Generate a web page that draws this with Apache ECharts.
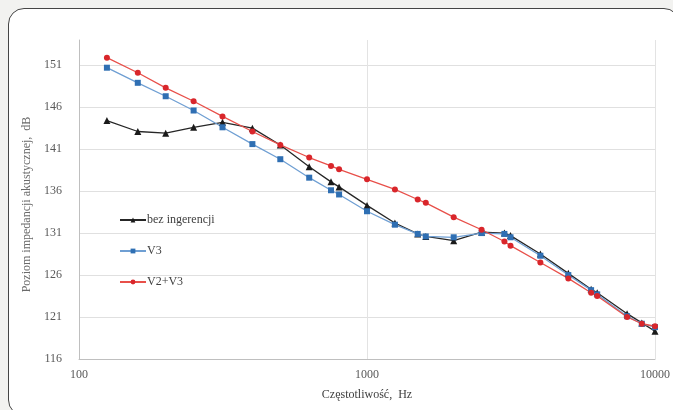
<!DOCTYPE html>
<html>
<head>
<meta charset="utf-8">
<script src="https://cdn.jsdelivr.net/npm/echarts@6/dist/echarts.min.js"></script>
<style>
  html, body { margin: 0; padding: 0; background: #f2f2f0; }
  #frame { position: absolute; left: 8px; top: 8px; width: 672px; height: 408px;
           border: 1.6px solid #454545; border-radius: 16px; background: #ffffff; box-sizing: border-box; }
  #chart { position: absolute; left: 0; top: 0; width: 673px; height: 410px; }
</style>
</head>
<body>
<div id="frame"></div>
<div id="chart"></div>
<script>
const frequencies = [125, 160, 200, 250, 315, 400, 500, 630, 750, 800, 1000, 1250, 1500, 1600, 2000, 2500, 3000, 3150, 4000, 5000, 6000, 6300, 8000, 9000, 10000];
const bezIngerencji = [144.4, 143.1, 142.9, 143.6, 144.2, 143.5, 141.5, 138.9, 137.1, 136.5, 134.3, 132.2, 130.9, 130.6, 130.1, 131.1, 131.0, 130.7, 128.5, 126.2, 124.3, 123.9, 121.4, 120.3, 119.3];
const v3 = [150.7, 148.9, 147.3, 145.6, 143.6, 141.6, 139.8, 137.6, 136.1, 135.6, 133.6, 132.0, 130.9, 130.6, 130.5, 131.0, 130.9, 130.5, 128.3, 126.0, 124.2, 123.7, 121.1, 120.2, 119.8];
const v2v3 = [151.9, 150.1, 148.3, 146.7, 144.9, 143.1, 141.5, 140.0, 139.0, 138.6, 137.4, 136.2, 135.0, 134.6, 132.9, 131.4, 130.0, 129.5, 127.5, 125.6, 123.9, 123.5, 121.0, 120.2, 119.9];
const seriesNames = ['bez ingerencji', 'V3', 'V2+V3'];
const xAxisTitle = 'Częstotliwość,  Hz';
const yAxisTitle = 'Poziom impedancji akustycznej,  dB';

const pairs = vals => frequencies.map((f, i) => [f, vals[i]]);
const serif = '"Liberation Serif", "DejaVu Serif", serif';

const chart = echarts.init(document.getElementById('chart'));
chart.setOption({
  animation: false,
  backgroundColor: 'transparent',
  grid: { left: 79, right: 18, top: 40, bottom: 51 },
  legend: {
    orient: 'vertical', left: 114, top: 209, itemGap: 19,
    itemWidth: 26, itemHeight: 6,
    textStyle: { fontFamily: serif, fontSize: 12, color: '#404040', padding: [0, 0, 0, -4] },
    data: seriesNames
  },
  xAxis: {
    type: 'log', logBase: 10, min: 100, max: 10000,
    name: xAxisTitle, nameLocation: 'middle', nameGap: 30,
    nameTextStyle: { fontFamily: serif, fontSize: 12, color: '#404040' },
    axisLine: { show: true, lineStyle: { color: '#bfbfbf', width: 1 } },
    axisTick: { show: false },
    axisLabel: { fontFamily: serif, fontSize: 12, color: '#595959', margin: 10,
                 formatter: v => String(Math.round(v)) },
    splitLine: { show: true, lineStyle: { color: '#e3e3e3', width: 1 } },
    minorSplitLine: { show: false }
  },
  yAxis: {
    type: 'value', min: 116, max: 154, interval: 5,
    name: yAxisTitle, nameLocation: 'middle', nameGap: 46,
    nameTextStyle: { fontFamily: serif, fontSize: 12, color: '#6a6a6a', padding: [0, 10, 0, 0] },
    axisLine: { show: true, lineStyle: { color: '#bfbfbf', width: 1 } },
    axisTick: { show: false },
    axisLabel: { fontFamily: serif, fontSize: 12, color: '#595959', margin: 17, showMaxLabel: false },
    splitLine: { show: true, showMaxLine: false, lineStyle: { color: '#e0e0e0', width: 1 } }
  },
  series: [
    {
      name: seriesNames[0], type: 'line', data: pairs(bezIngerencji),
      symbol: 'triangle', symbolSize: 7,
      lineStyle: { color: '#262626', width: 1.3 },
      itemStyle: { color: '#1a1a1a' }
    },
    {
      name: seriesNames[1], type: 'line', data: pairs(v3),
      symbol: 'rect', symbolSize: 6,
      lineStyle: { color: '#6f9fd3', width: 1.3 },
      itemStyle: { color: '#2f6fb3' }
    },
    {
      name: seriesNames[2], type: 'line', data: pairs(v2v3),
      symbol: 'circle', symbolSize: 6,
      lineStyle: { color: '#e8504a', width: 1.3 },
      itemStyle: { color: '#d9262b' }
    }
  ]
});
</script>
</body>
</html>
